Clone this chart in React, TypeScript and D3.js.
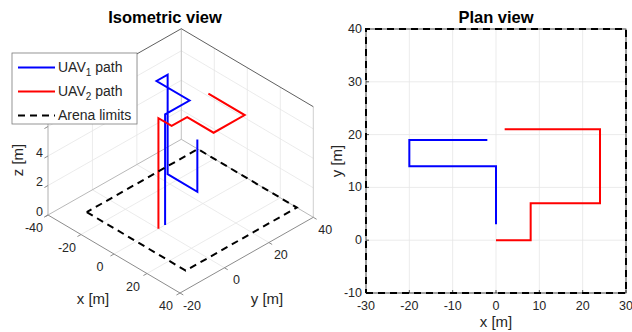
import { useRef, useEffect } from 'react';
import * as d3 from 'd3';

// UAV 1 path, metres
const uav1X = [0, 0, 0, -20, -20, -20, -2, -2];
const uav1Y = [3, 3, 14, 14, 19, 19, 19, 19];
const uav1Z = [0, 7.5, 7.5, 7.5, 7.5, 0.75, 0.75, 4.3];

// UAV 2 path, metres
const uav2X = [0, 0, 8, 8, 24, 24, 2];
const uav2Y = [0, 0, 0, 7, 7, 21, 21];
const uav2Z = [0, 7.5, 7.5, 7.5, 7.5, 7.5, 7.5];

// arena limits (closed rectangle at z = 0)
const arenaX = [-30, 30, 30, -30, -30];
const arenaY = [-10, -10, 40, 40, -10];

// isometric axes
const isoXDomain = [-40, 40];
const isoYDomain = [-20, 40];
const isoZDomain = [0, 7.5];
const isoXTicks = [-40, -20, 0, 20, 40];
const isoYTicks = [-20, 0, 20, 40];
const isoZTicks = [0, 2, 4, 6];
const isoZTickLabels = [0, 2, 4]; // 6 sits under the legend

// plan axes
const planXDomain = [-30, 30];
const planYDomain = [-10, 40];
const planXTicks = [-30, -20, -10, 0, 10, 20, 30];
const planYTicks = [-10, 0, 10, 20, 30, 40];

const legendItems = [
    { name: 'UAV', sub: '1', rest: ' path', color: '#0000ff', dash: '' },
    { name: 'UAV', sub: '2', rest: ' path', color: '#ff0000', dash: '' },
    { name: 'Arena limits', sub: '', rest: '', color: '#000000', dash: '7,5' },
];

type P3 = [number, number, number];

export default function App() {
    const ref = useRef<SVGSVGElement | null>(null);

    useEffect(() => {
        const svg = d3.select(ref.current);
        svg.selectAll('*').remove();

        const font = '"Liberation Sans", Arial, Helvetica, sans-serif';
        const ink = '#262626';
        const grid = '#e6e6e6';

        // ---------- isometric view ----------
        const origin = { x: 48, y: 215 };
        const exV = [132, 78];
        const eyV = [133.3, -75.7];
        const ezH = 110.6;

        const xs = d3.scaleLinear().domain(isoXDomain).range([0, 1]);
        const ys = d3.scaleLinear().domain(isoYDomain).range([0, 1]);
        const zs = d3.scaleLinear().domain(isoZDomain).range([0, 1]);
        const [x0, x1] = isoXDomain;
        const [y0, y1] = isoYDomain;
        const [z0, z1] = isoZDomain;

        const proj = (p: P3): [number, number] => [
            origin.x + xs(p[0]) * exV[0] + ys(p[1]) * eyV[0],
            origin.y + xs(p[0]) * exV[1] + ys(p[1]) * eyV[1] - zs(p[2]) * ezH,
        ];

        const iso = svg.append('g');
        const seg = (a: P3, b: P3, color: string, w: number) => {
            const pa = proj(a);
            const pb = proj(b);
            iso.append('line')
                .attr('x1', pa[0]).attr('y1', pa[1])
                .attr('x2', pb[0]).attr('y2', pb[1])
                .attr('stroke', color)
                .attr('stroke-width', w);
        };

        // grid: floor, left wall (x = min), right wall (y = max)
        isoXTicks.slice(1, -1).forEach(t => {
            seg([t, y0, z0], [t, y1, z0], grid, 0.8);
            seg([t, y1, z0], [t, y1, z1], grid, 0.8);
        });
        isoYTicks.slice(1, -1).forEach(t => {
            seg([x0, t, z0], [x1, t, z0], grid, 0.8);
            seg([x0, t, z0], [x0, t, z1], grid, 0.8);
        });
        isoZTicks.slice(1).forEach(t => {
            seg([x0, y0, t], [x0, y1, t], grid, 0.8);
            seg([x0, y1, t], [x1, y1, t], grid, 0.8);
        });

        // back box edges
        seg([x0, y0, z0], [x0, y1, z0], '#a6a6a6', 0.8);
        seg([x0, y1, z0], [x1, y1, z0], '#a6a6a6', 0.8);
        seg([x0, y1, z0], [x0, y1, z1], '#b3b3b3', 0.8);
        seg([x1, y1, z0], [x1, y1, z1], '#c4c4c4', 0.8);
        seg([x0, y0, z1], [x0, y1, z1], '#4d4d4d', 0.9);
        seg([x0, y1, z1], [x1, y1, z1], '#4d4d4d', 0.9);

        // axis lines
        seg([x0, y0, z0], [x1, y0, z0], '#8c8c8c', 1);
        seg([x1, y0, z0], [x1, y1, z0], '#8c8c8c', 1);
        seg([x0, y0, z0], [x0, y0, z1], '#b0b0b0', 1);

        // ticks
        isoXTicks.forEach(t => seg([t, y0, z0], [t, y0 - 1.6, z0], '#8c8c8c', 1));
        isoYTicks.forEach(t => seg([x1, t, z0], [x1 + 2, t, z0], '#8c8c8c', 1));
        isoZTicks.forEach(t => seg([x0, y0, t], [x0, y0 - 1.6, t], '#8c8c8c', 1));

        const tickText = (x: number, y: number, s: string, anchor = 'middle') =>
            iso.append('text')
                .attr('x', x).attr('y', y)
                .attr('text-anchor', anchor)
                .attr('dominant-baseline', 'central')
                .attr('font-family', font)
                .attr('font-size', 12.5)
                .attr('fill', ink)
                .text(s);

        isoXTicks.forEach(t => {
            const p = proj([t, y0, z0]);
            tickText(p[0] - 14, p[1] + 13, String(t));
        });
        isoYTicks.forEach(t => {
            const p = proj([x1, t, z0]);
            tickText(p[0] + 12, p[1] + 12.5, String(t));
        });
        isoZTickLabels.forEach(t => {
            const p = proj([x0, y0, t]);
            tickText(p[0] - 5, p[1] - 3.5, String(t), 'end');
        });

        const labelText = (x: number, y: number, s: string, rot = 0) =>
            svg.append('text')
                .attr('transform', `translate(${x},${y}) rotate(${rot})`)
                .attr('text-anchor', 'middle')
                .attr('dominant-baseline', 'central')
                .attr('font-family', font)
                .attr('font-size', 15)
                .attr('fill', ink)
                .text(s);

        labelText(93, 298, 'x [m]');
        labelText(267, 298, 'y [m]');
        labelText(17, 160, 'z [m]', -90);

        const line3 = d3.line<P3>()
            .x(d => proj(d)[0])
            .y(d => proj(d)[1]);

        const uav1: P3[] = uav1X.map((x, i) => [x, uav1Y[i], uav1Z[i]]);
        const uav2: P3[] = uav2X.map((x, i) => [x, uav2Y[i], uav2Z[i]]);
        const arena3: P3[] = arenaX.map((x, i) => [x, arenaY[i], 0]);

        iso.append('path').attr('d', line3(uav1)).attr('fill', 'none')
            .attr('stroke', '#0000ff').attr('stroke-width', 2).attr('stroke-linejoin', 'miter');
        iso.append('path').attr('d', line3(uav2)).attr('fill', 'none')
            .attr('stroke', '#ff0000').attr('stroke-width', 2).attr('stroke-linejoin', 'miter');
        iso.append('path').attr('d', line3(arena3)).attr('fill', 'none')
            .attr('stroke', '#000').attr('stroke-width', 2).attr('stroke-dasharray', '7,5');

        // titles
        const title = (x: number, s: string) =>
            svg.append('text')
                .attr('x', x).attr('y', 17)
                .attr('text-anchor', 'middle')
                .attr('dominant-baseline', 'central')
                .attr('font-family', font)
                .attr('font-weight', 'bold')
                .attr('font-size', 16.5)
                .attr('fill', '#000')
                .text(s);
        title(165, 'Isometric view');
        title(496, 'Plan view');

        // legend
        const lg = svg.append('g');
        lg.append('rect')
            .attr('x', 12).attr('y', 53).attr('width', 125).attr('height', 71)
            .attr('fill', '#fff').attr('stroke', '#7a7a7a').attr('stroke-width', 0.8);
        legendItems.forEach((it, i) => {
            const y = 67.5 + i * 24;
            lg.append('line')
                .attr('x1', 18).attr('x2', 55).attr('y1', y).attr('y2', y)
                .attr('stroke', it.color).attr('stroke-width', 2)
                .attr('stroke-dasharray', it.dash || null);
            const t = lg.append('text')
                .attr('x', 58).attr('y', y + 4.5)
                .attr('font-family', font).attr('font-size', 14).attr('fill', ink);
            t.append('tspan').text(it.name);
            if (it.sub) {
                t.append('tspan').attr('dy', 4).attr('font-size', 10).text(it.sub);
                t.append('tspan').attr('dy', -4).text(it.rest);
            }
        });

        // ---------- plan view ----------
        const px = d3.scaleLinear().domain(planXDomain).range([366, 626]);
        const py = d3.scaleLinear().domain(planYDomain).range([293, 29]);
        const plan = svg.append('g');

        planXTicks.forEach(t => {
            plan.append('line')
                .attr('x1', px(t)).attr('x2', px(t))
                .attr('y1', py(planYDomain[0])).attr('y2', py(planYDomain[1]))
                .attr('stroke', grid).attr('stroke-width', 0.8);
        });
        planYTicks.forEach(t => {
            plan.append('line')
                .attr('x1', px(planXDomain[0])).attr('x2', px(planXDomain[1]))
                .attr('y1', py(t)).attr('y2', py(t))
                .attr('stroke', grid).attr('stroke-width', 0.8);
        });

        plan.append('rect')
            .attr('x', px(planXDomain[0])).attr('y', py(planYDomain[1]))
            .attr('width', px(planXDomain[1]) - px(planXDomain[0]))
            .attr('height', py(planYDomain[0]) - py(planYDomain[1]))
            .attr('fill', 'none').attr('stroke', ink).attr('stroke-width', 0.8);

        planXTicks.forEach(t => {
            plan.append('line')
                .attr('x1', px(t)).attr('x2', px(t))
                .attr('y1', py(planYDomain[0])).attr('y2', py(planYDomain[0]) - 3)
                .attr('stroke', ink).attr('stroke-width', 0.8);
            plan.append('text')
                .attr('x', px(t)).attr('y', 306)
                .attr('text-anchor', 'middle').attr('dominant-baseline', 'central')
                .attr('font-family', font).attr('font-size', 12.5).attr('fill', ink)
                .text(String(t));
        });
        planYTicks.forEach(t => {
            plan.append('line')
                .attr('x1', px(planXDomain[0])).attr('x2', px(planXDomain[0]) + 3)
                .attr('y1', py(t)).attr('y2', py(t))
                .attr('stroke', ink).attr('stroke-width', 0.8);
            plan.append('text')
                .attr('x', 362).attr('y', py(t))
                .attr('text-anchor', 'end').attr('dominant-baseline', 'central')
                .attr('font-family', font).attr('font-size', 12.5).attr('fill', ink)
                .text(String(t));
        });

        labelText(496, 321, 'x [m]');
        labelText(336, 161, 'y [m]', -90);

        const line2 = d3.line<[number, number]>()
            .x(d => px(d[0]))
            .y(d => py(d[1]));

        plan.append('path').attr('d', line2(uav1X.map((x, i) => [x, uav1Y[i]])))
            .attr('fill', 'none').attr('stroke', '#0000ff').attr('stroke-width', 2);
        plan.append('path').attr('d', line2(uav2X.map((x, i) => [x, uav2Y[i]])))
            .attr('fill', 'none').attr('stroke', '#ff0000').attr('stroke-width', 2);
        plan.append('path').attr('d', line2(arenaX.map((x, i) => [x, arenaY[i]])))
            .attr('fill', 'none').attr('stroke', '#000').attr('stroke-width', 2)
            .attr('stroke-dasharray', '7,5');
    }, []);

    return (
        <div style={{ position: 'fixed', left: 0, top: 0, background: '#fff' }}>
            <svg ref={ref} width={632} height={332} style={{ display: 'block' }} />
        </div>
    );
}
